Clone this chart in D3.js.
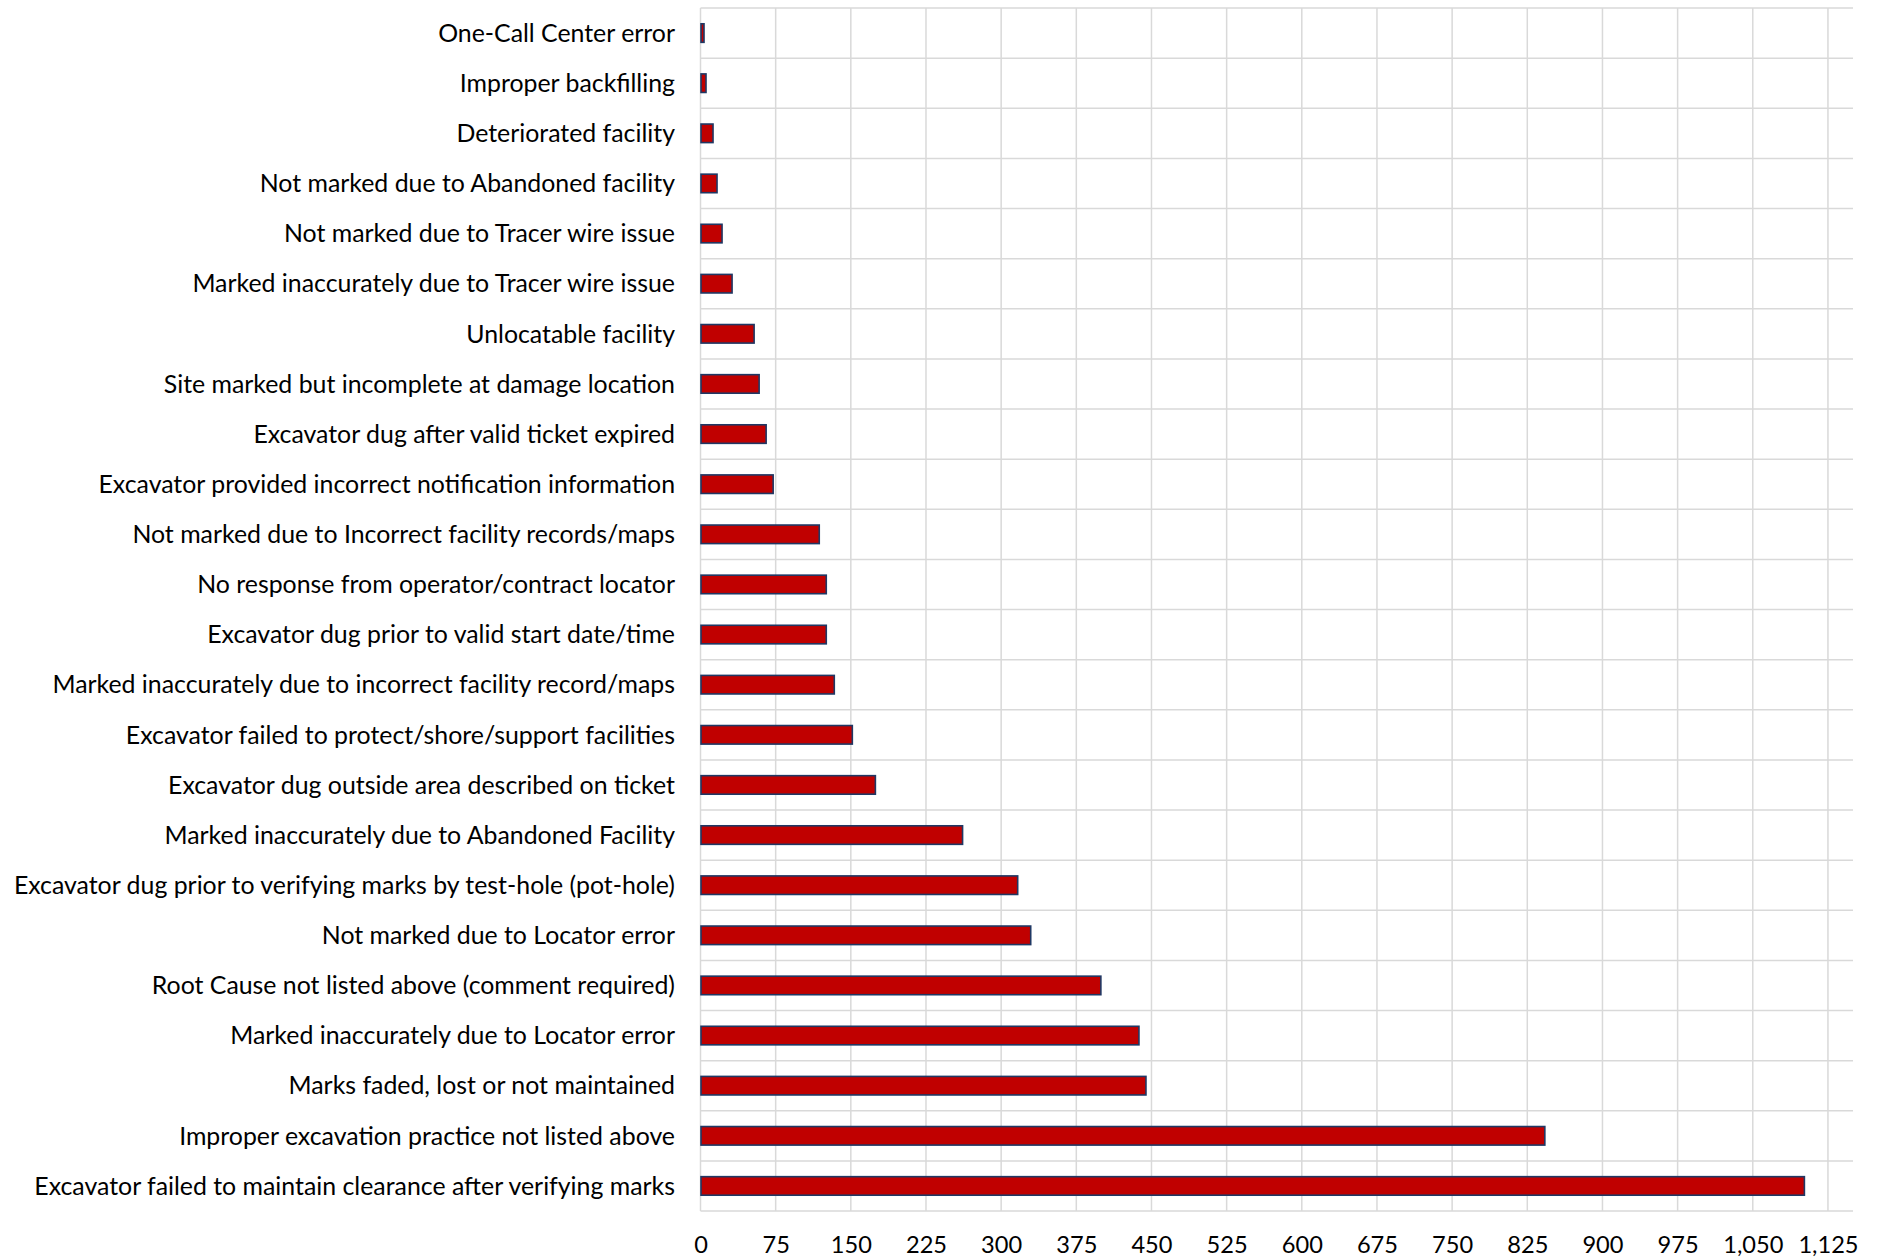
<!DOCTYPE html>
<html>
<head>
<meta charset="utf-8">
<script src="https://cdn.jsdelivr.net/npm/d3@7"></script>
<style>
  html, body { margin: 0; padding: 0; background: #ffffff; }
  svg { display: block; }
  text { font-family: Lato, "Open Sans", sans-serif; fill: #000000; }
</style>
</head>
<body>
<svg id="chart" width="1879" height="1260"></svg>
<script>
// Damage root causes, listed top to bottom
const categories = [
  "One-Call Center error",
  "Improper backfilling",
  "Deteriorated facility",
  "Not marked due to Abandoned facility",
  "Not marked due to Tracer wire issue",
  "Marked inaccurately due to Tracer wire issue",
  "Unlocatable facility",
  "Site marked but incomplete at damage location",
  "Excavator dug after valid ticket expired",
  "Excavator provided incorrect notification information",
  "Not marked due to Incorrect facility records/maps",
  "No response from operator/contract locator",
  "Excavator dug prior to valid start date/time",
  "Marked inaccurately due to incorrect facility record/maps",
  "Excavator failed to protect/shore/support facilities",
  "Excavator dug outside area described on ticket",
  "Marked inaccurately due to Abandoned Facility",
  "Excavator dug prior to verifying marks by test-hole (pot-hole)",
  "Not marked due to Locator error",
  "Root Cause not listed above (comment required)",
  "Marked inaccurately due to Locator error",
  "Marks faded, lost or not maintained",
  "Improper excavation practice not listed above",
  "Excavator failed to maintain clearance after verifying marks"
];

const counts = [
  3, 5, 12, 16, 21, 31, 53, 58, 65, 72, 118, 125,
  125, 133, 151, 174, 261, 316, 329, 399, 437, 444, 842, 1101
];

const tickValues = [0, 75, 150, 225, 300, 375, 450, 525, 600, 675, 750, 825, 900, 975, 1050, 1125];
const axisMax = 1150;

const svg = d3.select("#chart");

const plot = { left: 700.5, right: 1853, top: 8, bottom: 1211 };

const x = d3.scaleLinear().domain([0, axisMax]).range([plot.left, plot.right]);
const y = d3.scaleBand().domain(categories).range([plot.top, plot.bottom]).padding(0);

const gridColor = "#d9d9d9";
const grid = svg.append("g").attr("class", "grid");

// vertical value gridlines
grid.selectAll("line.v")
  .data(tickValues)
  .join("line")
  .attr("class", "v")
  .attr("x1", d => x(d)).attr("x2", d => x(d))
  .attr("y1", plot.top).attr("y2", plot.bottom)
  .attr("stroke", gridColor).attr("stroke-width", 1.5);

// horizontal gridlines on category boundaries
const bounds = categories.map(c => y(c)).concat([y(categories[categories.length - 1]) + y.bandwidth()]);
grid.selectAll("line.h")
  .data(bounds)
  .join("line")
  .attr("class", "h")
  .attr("x1", plot.left).attr("x2", plot.right)
  .attr("y1", d => d).attr("y2", d => d)
  .attr("stroke", gridColor).attr("stroke-width", 1.5);

// bars
const barH = y.bandwidth() * 0.37;
svg.append("g").selectAll("rect")
  .data(categories.map((c, i) => ({ c, v: counts[i] })))
  .join("rect")
  .attr("x", x(0) + 0.5)
  .attr("y", d => y(d.c) + (y.bandwidth() - barH) / 2)
  .attr("width", d => x(d.v) - x(0))
  .attr("height", barH)
  .attr("fill", "#c00000")
  .attr("stroke", "#203864")
  .attr("stroke-width", 1.6);

// category labels; the font size is set so the bottom label fills its column
const labelRight = 675;
const labelG = svg.append("g");
const labels = labelG.selectAll("text")
  .data(categories)
  .join("text")
  .attr("x", labelRight)
  .attr("y", d => y(d) + y.bandwidth() / 2 - 1.2)
  .attr("text-anchor", "end")
  .attr("dominant-baseline", "central")
  .style("font-size", "24px")
  .text(d => d);

const refWidth = labels.nodes()[categories.length - 1].getComputedTextLength();
const labelSize = 24 * 641 / refWidth;
labels.style("font-size", labelSize + "px");

// value axis tick labels
const axis = d3.axisBottom(x)
  .tickValues(tickValues)
  .tickSize(0)
  .tickPadding(0)
  .tickFormat(d3.format(","));

const axisG = svg.append("g")
  .attr("transform", `translate(0, ${plot.bottom})`)
  .call(axis);
axisG.select(".domain").remove();
axisG.selectAll("text")
  .attr("y", 34)
  .attr("dy", "0.35em")
  .style("font-family", "Lato, 'Open Sans', sans-serif")
  .style("font-size", (labelSize * 0.95) + "px")
  .attr("fill", "#000000");
</script>
</body>
</html>
